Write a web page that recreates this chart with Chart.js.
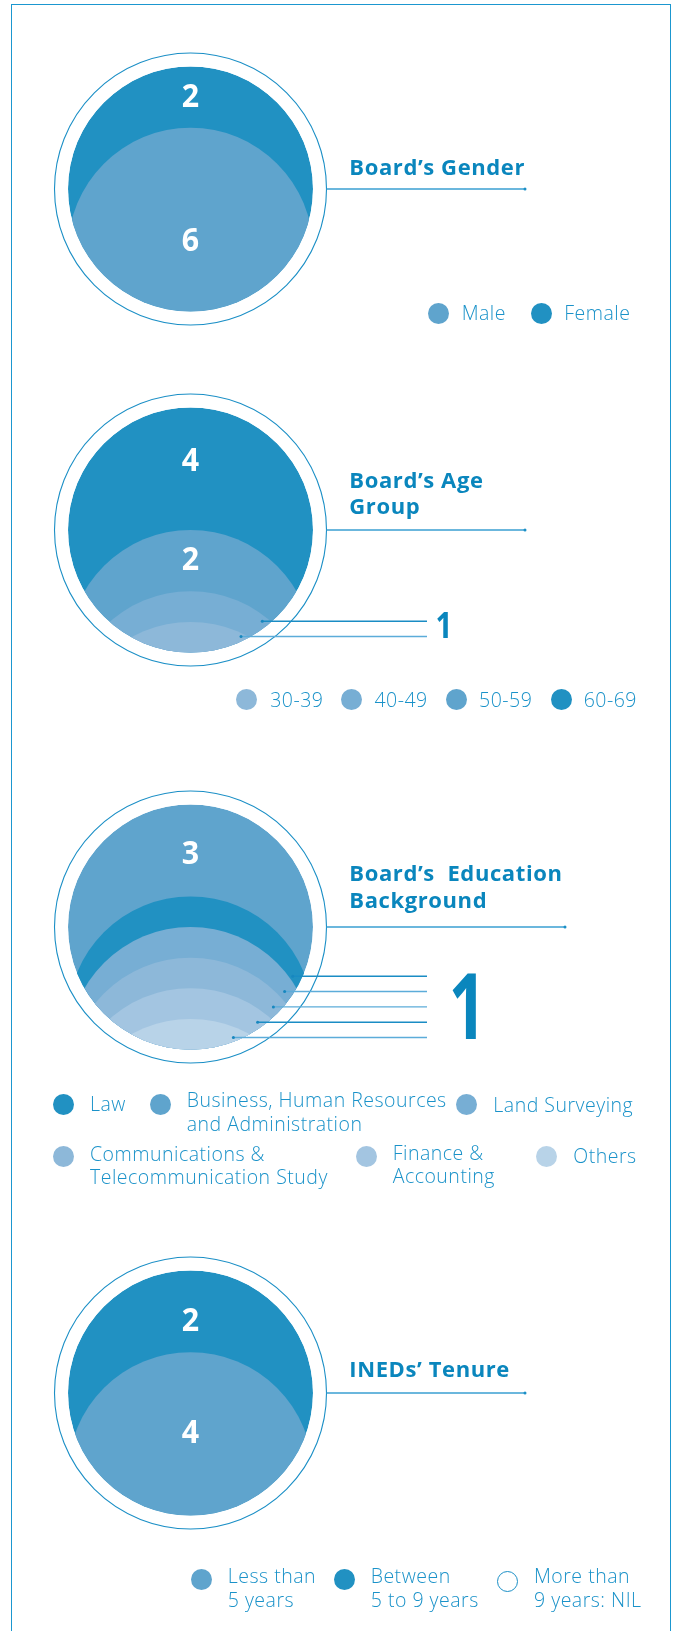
<!DOCTYPE html>
<html>
<head>
<meta charset="utf-8">
<script src="https://cdn.jsdelivr.net/npm/chart.js@4.4.1/dist/chart.umd.min.js"></script>
<style>
  html, body { margin: 0; padding: 0; background: #ffffff; }
  #page { position: relative; width: 678px; height: 1631px; overflow: hidden; background: #fff; }
  #frame { position: absolute; left: 10.5px; top: 4px; width: 660px; height: 1700px;
           border: 1.8px solid #1b97d0; border-bottom: none; box-sizing: border-box; }
  canvas { position: absolute; left: 0; }
  .t { position: absolute; white-space: pre; font-family: 'Open Sans', sans-serif; }
  .dot { position: absolute; border-radius: 50%; box-sizing: border-box; }
</style>
</head>
<body>
<div id="page"><div id="frame"></div></div>
<script>
// ---------------- DATA ----------------
const genderCategories = ['Male', 'Female'];
const genderValues = [6, 2];

const ageCategories = ['30-39', '40-49', '50-59', '60-69'];
const ageValues = [1, 1, 2, 4];

const eduCategories = ['Law', 'Business, Human Resources\nand Administration', 'Land Surveying',
                       'Communications &\nTelecommunication Study', 'Finance &\nAccounting', 'Others'];
const eduValues = [1, 3, 1, 1, 1, 1];
const eduStackOrder = [5, 4, 3, 2, 0, 1];   // bottom -> top

const tenureCategories = ['Less than\n5 years', 'Between\n5 to 9 years', 'More than\n9 years: NIL'];
const tenureValues = [4, 2, 0];

// ---------------- STYLE ----------------
const C = { dark: '#2191c2', mid: '#5fa4cd', c3: '#77aed4', c4: '#8db8d9', c5: '#a3c5e1', c6: '#b8d3e8' };
const TITLE_COLOR = '#0a86bd';
const TEXT_COLOR = '#1a92c9';
const FONT = "'Open Sans', sans-serif";
const PAGE = document.getElementById('page');

const diskPlugin = {
  id: 'disk',
  beforeDatasetsDraw(chart, args, o) {
    const ctx = chart.ctx, a = chart.chartArea;
    const cx = (a.left + a.right) / 2, cy = (a.top + a.bottom) / 2, r = (a.bottom - a.top) / 2;
    ctx.save();
    // outer ring
    ctx.lineWidth = 1.1; ctx.strokeStyle = o.ringColor;
    ctx.beginPath(); ctx.arc(cx, cy, r + o.ringGap, 0, Math.PI * 2); ctx.stroke();
    // leader line
    ctx.lineWidth = 1.4; ctx.strokeStyle = o.leaderColor;
    ctx.beginPath(); ctx.moveTo(cx + r + o.ringGap, cy); ctx.lineTo(o.leaderEnd, cy); ctx.stroke();
    ctx.fillStyle = o.ringColor;
    ctx.beginPath(); ctx.arc(o.leaderEnd, cy, 1.5, 0, Math.PI * 2); ctx.fill();
    // layered disk
    ctx.beginPath(); ctx.arc(cx, cy, r, 0, Math.PI * 2); ctx.clip();
    const ds = chart.data.datasets;
    for (let i = ds.length - 1; i >= 0; i--) {
      if (!ds[i].data[0]) continue;
      const el = chart.getDatasetMeta(i).data[0];
      ctx.fillStyle = ds[i].layerColor;
      ctx.beginPath(); ctx.arc(cx, el.y + r, r, 0, Math.PI * 2); ctx.fill();
    }
    ctx.restore();
  },
  afterDatasetsDraw(chart, args, o) {
    const ctx = chart.ctx, a = chart.chartArea;
    const cx = (a.left + a.right) / 2, cy = (a.top + a.bottom) / 2, r = (a.bottom - a.top) / 2;
    const ys = chart.scales.y;
    const ds = chart.data.datasets;
    ctx.save();
    // inside labels
    ctx.textAlign = 'center'; ctx.textBaseline = 'alphabetic';
    ctx.font = `700 ${o.labelSize}px ${FONT}`;
    ctx.fillStyle = '#ffffff';
    ds.forEach((d, i) => {
      const v = d.data[0];
      if (!v || d.pointer) return;
      const el = chart.getDatasetMeta(i).data[0];
      const mid = (el.y + el.base) / 2 + d.nudge;
      ctx.save();
      ctx.translate(cx, mid + o.labelSize * 0.714 / 2);
      ctx.scale(0.92, 1);
      ctx.fillText(String(v), 0, 0);
      ctx.restore();
    });
    // pointer lines for the smallest layers
    const ptr = ds.map((d, i) => i).filter(i => ds[i].pointer);
    let lowest = null, ptrValue = null;
    ptr.forEach((i, j) => {
      const y = ys.getPixelForValue(j * 0.5) - o.pointerOffset;
      const x0 = cx + Math.sqrt(Math.max(0, r * r - (y - cy) * (y - cy))) - o.pointerInset;
      ctx.strokeStyle = o.pointerColors[j % o.pointerColors.length];
      ctx.lineWidth = 1.4;
      ctx.beginPath(); ctx.moveTo(x0, y); ctx.lineTo(o.pointerEnd, y); ctx.stroke();
      ctx.fillStyle = '#1787bf';
      ctx.beginPath(); ctx.arc(x0, y, 1.5, 0, Math.PI * 2); ctx.fill();
      if (lowest === null || y > lowest) lowest = y;
      ptrValue = ds[i].data[0];
    });
    if (ptr.length) {
      ctx.fillStyle = TITLE_COLOR;
      ctx.font = `700 ${o.pointerLabelSize}px ${FONT}`;
      ctx.textAlign = 'center';
      ctx.translate(o.pointerLabelX, lowest + 1);
      ctx.scale(o.pointerLabelStretch, 1);
      ctx.fillText(String(ptrValue), 0, 0);
    }
    ctx.restore();
  }
};

function makeDisk(spec) {
  const W = 678, H = 340, R = 122.5, CX = 190.5;
  const cv = document.createElement('canvas');
  cv.width = W; cv.height = H; cv.style.top = (spec.cy - H / 2) + 'px';
  PAGE.appendChild(cv);
  const total = spec.values.reduce((s, v) => s + v, 0);
  const datasets = spec.order.map(idx => ({
    label: spec.categories[idx].replace(/\n/g, ' '),
    data: [spec.values[idx]],
    backgroundColor: 'rgba(0,0,0,0)',
    borderWidth: 0,
    layerColor: spec.colors[idx],
    pointer: spec.values[idx] === 1,
    nudge: (spec.nudge && spec.nudge[idx]) || 0
  }));
  new Chart(cv, {
    type: 'bar',
    data: { labels: [spec.title], datasets },
    options: {
      responsive: false, animation: false, devicePixelRatio: 1,
      layout: { padding: { left: CX - R, right: W - CX - R, top: H / 2 - R, bottom: H / 2 - R } },
      scales: {
        x: { stacked: true, display: false },
        y: { stacked: true, display: false, min: 0, max: total }
      },
      datasets: { bar: { categoryPercentage: 1, barPercentage: 1 } },
      plugins: {
        legend: { display: false }, tooltip: { enabled: false },
        disk: {
          ringGap: 13.5, ringColor: '#1b8fc6', leaderColor: '#3a9fd2', leaderEnd: spec.leaderEnd,
          labelSize: 33,
          pointerOffset: spec.pointerOffset || 14, pointerInset: 10, pointerEnd: 427,
          pointerColors: spec.pointerColors || ['#1a8cc4'],
          pointerLabelX: spec.pointerLabelX || 0, pointerLabelSize: spec.pointerLabelSize || 35,
          pointerLabelStretch: spec.pointerLabelStretch || 1
        }
      }
    },
    plugins: [diskPlugin]
  });
}

function placeText(str, x, baseline, size, weight, color, lh, ls) {
  const d = document.createElement('div');
  d.className = 't';
  d.style.left = x + 'px'; d.style.top = '0px';
  d.style.fontSize = size + 'px'; d.style.fontWeight = weight;
  d.style.color = color; d.style.lineHeight = lh + 'px';
  d.style.letterSpacing = (ls || 0) + 'px';
  const probe = document.createElement('span');
  probe.style.cssText = 'display:inline-block;width:0;height:0;vertical-align:baseline;';
  d.appendChild(probe);
  d.appendChild(document.createTextNode(str));
  PAGE.appendChild(d);
  const b = probe.offsetTop;
  d.style.top = (baseline - b) + 'px';
}
function title(str, x, baseline, lh) { placeText(str, x, baseline, 22, 700, TITLE_COLOR, lh, 0.6); }

function dot(x, y, color, hollow) {
  const d = document.createElement('div');
  d.className = 'dot';
  const rr = 10.5;
  d.style.left = (x - rr) + 'px'; d.style.top = (y - rr) + 'px';
  d.style.width = (2 * rr) + 'px'; d.style.height = (2 * rr) + 'px';
  if (hollow) { d.style.border = '1.2px solid #1b8fc6'; d.style.background = '#fff'; }
  else d.style.background = color;
  PAGE.appendChild(d);
}

function legend(categories, colors, items, hollowIdx) {
  items.forEach((it, i) => {
    dot(it.dx, it.dy, colors[i], hollowIdx === i);
    placeText(categories[i], it.tx, it.tb, 19.5, 300, TEXT_COLOR, 23.2, 0.5);
  });
}

// ---------------- CHART 1: Gender ----------------
const genderColors = [C.mid, C.dark];
makeDisk({ title: 'Board’s Gender', categories: genderCategories, values: genderValues,
  colors: genderColors, order: [0, 1], cy: 189, leaderEnd: 525, nudge: [19.5, -1.5] });
title('Board’s Gender', 349.3, 175, 27);
legend(genderCategories, genderColors, [
  { dx: 438, dy: 313, tx: 461.7, tb: 320 },
  { dx: 541.3, dy: 313, tx: 564.2, tb: 320 }
]);

// ---------------- CHART 2: Age ----------------
const ageColors = [C.c4, C.c3, C.mid, C.dark];
makeDisk({ title: 'Board’s Age Group', categories: ageCategories, values: ageValues,
  colors: ageColors, order: [0, 1, 2, 3], cy: 530, leaderEnd: 525, nudge: [0, 0, -2.6, -10],
  pointerOffset: 16, pointerColors: ['#5cacd9', '#1a8cc4'], pointerLabelX: 444, pointerLabelSize: 35,
  pointerLabelStretch: 0.85 });
title('Board’s Age\nGroup', 349.3, 488, 26);
legend(ageCategories, ageColors, [
  { dx: 246.4, dy: 699, tx: 270.2, tb: 706.7 },
  { dx: 351.5, dy: 699, tx: 374.4, tb: 706.7 },
  { dx: 456.1, dy: 699, tx: 479, tb: 706.7 },
  { dx: 561.2, dy: 699, tx: 583.7, tb: 706.7 }
]);

// ---------------- CHART 3: Education ----------------
const eduColors = [C.dark, C.mid, C.c3, C.c4, C.c5, C.c6];
makeDisk({ title: 'Board’s Education Background', categories: eduCategories, values: eduValues,
  colors: eduColors, order: eduStackOrder, cy: 926.7, leaderEnd: 565, nudge: [0, 2, 0, 0, 0, 0],
  pointerOffset: 12, pointerColors: ['#5cacd9', '#1a8cc4', '#5cacd9', '#5cacd9', '#1a8cc4'],
  pointerLabelX: 467.5, pointerLabelSize: 91, pointerLabelStretch: 0.72 });
title('Board’s  Education\nBackground', 349.3, 880.7, 27);
legend(eduCategories, eduColors, [
  { dx: 63.3, dy: 1104, tx: 90, tb: 1110.7 },
  { dx: 160.7, dy: 1104, tx: 186.7, tb: 1107.3 },
  { dx: 466.7, dy: 1104, tx: 493.3, tb: 1111.7 },
  { dx: 63.3, dy: 1156.5, tx: 90, tb: 1160.7 },
  { dx: 366.7, dy: 1156.7, tx: 392.7, tb: 1160 },
  { dx: 546.7, dy: 1156.7, tx: 573.3, tb: 1163.3 }
]);

// ---------------- CHART 4: Tenure ----------------
const tenureColors = [C.mid, C.dark, '#ffffff'];
makeDisk({ title: 'INEDs’ Tenure', categories: tenureCategories, values: tenureValues,
  colors: tenureColors, order: [0, 1, 2], cy: 1392.5, leaderEnd: 525, nudge: [-3, 8, 0] });
title('INEDs’ Tenure', 349.3, 1376.7, 27);
legend(tenureCategories, tenureColors, [
  { dx: 201, dy: 1579.5, tx: 227.7, tb: 1583.3 },
  { dx: 344.3, dy: 1579.5, tx: 370.7, tb: 1583.3 },
  { dx: 507.7, dy: 1581, tx: 534, tb: 1583.3 }
], 2);
</script>
</body>
</html>
